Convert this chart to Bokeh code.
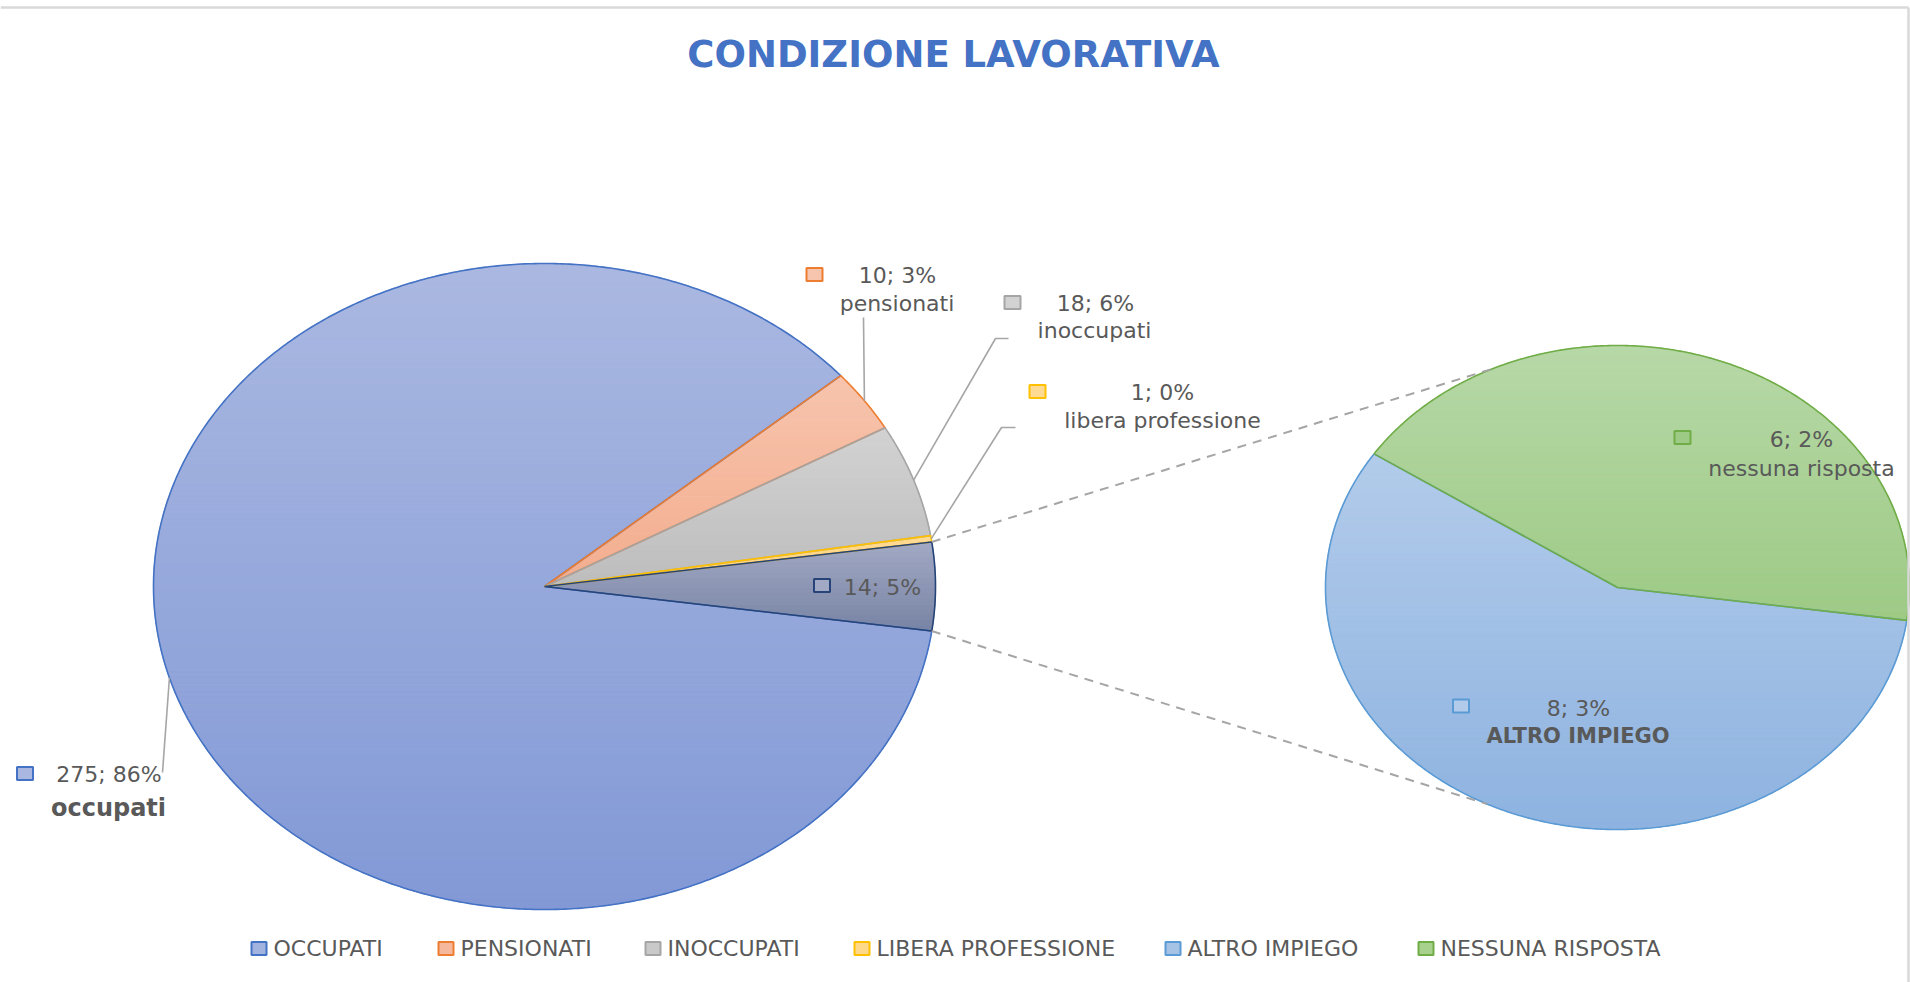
import numpy as np
from bokeh.plotting import figure
from bokeh.models import Range1d, ColumnDataSource
from bokeh.core.properties import value
from bokeh.embed import file_html
from bokeh.resources import INLINE

# ---------------- data ----------------
title_text = "CONDIZIONE LAVORATIVA"
main_labels = ["occupati", "pensionati", "inoccupati", "libera professione"]
main_values = [275, 10, 18, 1]
main_pcts = [86, 3, 6, 0]
sub_labels = ["ALTRO IMPIEGO", "nessuna risposta"]
sub_values = [8, 6]
sub_pcts = [3, 2]
other_pct = 5
legend_labels = ["OCCUPATI", "PENSIONATI", "INOCCUPATI", "LIBERA PROFESSIONE",
                 "ALTRO IMPIEGO", "NESSUNA RISPOSTA"]

# ---------------- styles ----------------
main_grad = [("#AAB8E1", "#8299D6"), ("#F7C4AD", "#F3AD8E"),
             ("#D2D2D2", "#BDBDBD"), ("#FFDA92", "#FFD27C")]
main_edge = ["#4472C4", "#ED7D31", "#A5A5A5", "#FFC000"]
other_grad = ("#A2A9C4", "#7884A5")
other_edge = "#264478"
sub_grad = [("#B2CBEA", "#8EB3E0"), ("#B7D8A7", "#9DCA85")]
sub_edge = ["#5B9BD5", "#70AD47"]
legend_fill = ["#A3B3E0", "#F5B89D", "#C9C9C9", "#FFD98A", "#A6C3E6", "#A9D18E"]
legend_edge = main_edge + sub_edge
TXT = "#595959"
FONT = value("DejaVu Sans")

W, H = 1910, 982
MAIN_C, MAIN_R = (544.0, 586.0), (391.0, 323.0)
SUB_C, SUB_R = (1617.0, 587.0), (292.0, 242.0)
SUB_START = -7.8

p = figure(width=W, height=H, output_backend="svg", toolbar_location=None,
           x_range=Range1d(0, W), y_range=Range1d(H, 0),
           x_axis_type=None, y_axis_type=None, min_border=0,
           background_fill_color="white", border_fill_color="white")
p.grid.visible = False
p.outline_line_color = None


def ell_pt(c, r, ang):
    t = np.radians(ang)
    return c[0] + r[0] * np.cos(t), c[1] - r[1] * np.sin(t)


def wedge(c, r, a0, a1):
    n = max(4, int(abs(a1 - a0) / 0.5))
    t = np.radians(np.linspace(a0, a1, n))
    xs = [c[0]] + list(c[0] + r[0] * np.cos(t))
    ys = [c[1]] + list(c[1] - r[1] * np.sin(t))
    return xs, ys


def clip_half(pts, inside, yc):
    out = []
    for i in range(len(pts)):
        cur, prev = pts[i], pts[i - 1]
        def inter(a, b):
            tt = (yc - a[1]) / (b[1] - a[1])
            return (a[0] + tt * (b[0] - a[0]), yc)
        if inside(cur):
            if not inside(prev):
                out.append(inter(prev, cur))
            out.append(cur)
        elif inside(prev):
            out.append(inter(prev, cur))
    return out


def mix(c1, c2, t):
    a = [int(c1[i:i + 2], 16) for i in (1, 3, 5)]
    b = [int(c2[i:i + 2], 16) for i in (1, 3, 5)]
    return "#%02x%02x%02x" % tuple(int(round(a[k] + (b[k] - a[k]) * t)) for k in range(3))


band = dict(xs=[], ys=[], c=[])
edges = dict(xs=[], ys=[], c=[])


def add_slice(xs, ys, grad, edge):
    pts = list(zip(xs, ys))
    ymin, ymax = min(ys), max(ys)
    nb = max(2, int((ymax - ymin) / 5))
    for k in range(nb):
        y0 = ymin + (ymax - ymin) * k / nb
        y1 = ymin + (ymax - ymin) * (k + 1) / nb
        q = clip_half(pts, lambda pp: pp[1] >= y0, y0)
        if not q:
            continue
        q = clip_half(q, lambda pp: pp[1] <= y1, y1)
        if len(q) < 3:
            continue
        band["xs"].append([pp[0] for pp in q])
        band["ys"].append([pp[1] for pp in q])
        band["c"].append(mix(grad[0], grad[1], (k + 0.5) / nb))
    edges["xs"].append(xs)
    edges["ys"].append(ys)
    edges["c"].append(edge)


# main pie angles (counter-clockwise, "other" slice centered on the right)
other_value = sum(sub_values)
total = sum(main_values) + other_value
dpu = 360.0 / total
o0 = -other_value * dpu / 2
o1 = o0 + other_value * dpu
main_ang = [None] * len(main_values)
a = o1
for i in reversed(range(len(main_values))):
    main_ang[i] = (a, a + main_values[i] * dpu)
    a += main_values[i] * dpu

for i in range(len(main_values)):
    xs, ys = wedge(MAIN_C, MAIN_R, *main_ang[i])
    add_slice(xs, ys, main_grad[i], main_edge[i])
xs, ys = wedge(MAIN_C, MAIN_R, o0, o1)
add_slice(xs, ys, other_grad, other_edge)

# second pie
sdpu = 360.0 / other_value
sub_ang = [(SUB_START + sub_values[1] * sdpu, SUB_START + 360.0),
           (SUB_START, SUB_START + sub_values[1] * sdpu)]
for i in range(len(sub_values)):
    xs, ys = wedge(SUB_C, SUB_R, *sub_ang[i])
    add_slice(xs, ys, sub_grad[i], sub_edge[i])

p.patches("xs", "ys", source=ColumnDataSource(band), fill_color="c",
          line_color="c", line_width=1)
p.patches("xs", "ys", source=ColumnDataSource(edges), fill_alpha=0,
          line_color="c", line_width=1.6)

# connector lines between the pies
ta = ell_pt(MAIN_C, MAIN_R, o1)
tb = ell_pt(SUB_C, SUB_R, 115.5)
ba = ell_pt(MAIN_C, MAIN_R, o0)
bb = ell_pt(SUB_C, SUB_R, -116.5)
p.multi_line([[ta[0], tb[0]], [ba[0], bb[0]]], [[ta[1], tb[1]], [ba[1], bb[1]]],
             line_color="#A5A5A5", line_width=2, line_dash="9 7")

# leader lines
def mid_pt(i):
    return ell_pt(MAIN_C, MAIN_R, (main_ang[i][0] + main_ang[i][1]) / 2)

lead_x, lead_y = [], []
m = mid_pt(0); lead_x.append([162, m[0]]); lead_y.append([772, m[1]])
m = mid_pt(1); lead_x.append([863, m[0]]); lead_y.append([317, m[1]])
m = mid_pt(2); lead_x.append([1008, 995, m[0]]); lead_y.append([338, 338, m[1]])
m = mid_pt(3); lead_x.append([1015, 1001, m[0]]); lead_y.append([427, 427, m[1]])
p.multi_line(lead_x, lead_y, line_color="#A6A6A6", line_width=1.6)

# data labels
val_pos = [(108.5, 774), (897, 275), (1095, 303), (1162, 392)]
name_pos = [(108, 807), (896.5, 303), (1094, 330), (1162, 420)]
key_pos = [(24.5, 773), (814, 274), (1012, 302), (1037, 391)]
sub_val_pos = [(1578, 708), (1801, 439)]
sub_name_pos = [(1577.5, 735), (1801, 468)]
sub_key_pos = [(1460.5, 705.5), (1682, 437)]
other_val_pos = (882, 587)
other_key_pos = (821.5, 585)

vtx, vty, vt = [], [], []
for i in range(len(main_values)):
    vtx.append(val_pos[i][0]); vty.append(val_pos[i][1])
    vt.append("%d; %d%%" % (main_values[i], main_pcts[i]))
for i in range(len(sub_values)):
    vtx.append(sub_val_pos[i][0]); vty.append(sub_val_pos[i][1])
    vt.append("%d; %d%%" % (sub_values[i], sub_pcts[i]))
vtx.append(other_val_pos[0]); vty.append(other_val_pos[1])
vt.append("%d; %d%%" % (other_value, other_pct))
nx = [name_pos[i][0] for i in range(1, 4)] + [sub_name_pos[1][0]]
ny = [name_pos[i][1] for i in range(1, 4)] + [sub_name_pos[1][1]]
nt = main_labels[1:4] + [sub_labels[1]]
p.text(vtx + nx, vty + ny, text=vt + nt, text_font=FONT, text_font_size="22px",
       text_color=TXT, text_align="center", text_baseline="middle")
p.text([name_pos[0][0]], [name_pos[0][1]], text=[main_labels[0]], text_font=FONT,
       text_font_size="24px", text_font_style="bold", text_color=TXT,
       text_align="center", text_baseline="middle")
p.text([sub_name_pos[0][0]], [sub_name_pos[0][1]], text=[sub_labels[0]], text_font=FONT,
       text_font_size="21px", text_font_style="bold", text_color=TXT,
       text_align="center", text_baseline="middle")

kx = [k[0] for k in key_pos] + [k[0] for k in sub_key_pos] + [other_key_pos[0]]
ky = [k[1] for k in key_pos] + [k[1] for k in sub_key_pos] + [other_key_pos[1]]
kf = [g[0] for g in main_grad] + [sub_grad[0][0], sub_grad[1][1]] + [other_grad[0]]
ke = main_edge + sub_edge + [other_edge]
p.rect(kx, ky, width=16, height=13, fill_color=kf, line_color=ke, line_width=2)

# legend
leg_text_x = [273, 460, 667, 876, 1187, 1440]
leg_y = 948
p.rect([x - 14.5 for x in leg_text_x], [leg_y] * 6, width=15, height=13,
       fill_color=legend_fill, line_color=legend_edge, line_width=2)
p.text(leg_text_x, [leg_y] * 6, text=legend_labels, text_font=FONT,
       text_font_size="22px", text_color=TXT, text_align="left",
       text_baseline="middle")

# title
p.text([953], [54], text=[title_text], text_font=FONT, text_font_size="37px",
       text_font_style="bold", text_color="#4472C4", text_align="center",
       text_baseline="middle")

# chart frame
p.multi_line([[0, 1908], [1908, 1908]], [[7, 7], [7, H]],
             line_color="#D9D9D9", line_width=2.5)

open("out.html", "w").write(file_html(p, INLINE))
